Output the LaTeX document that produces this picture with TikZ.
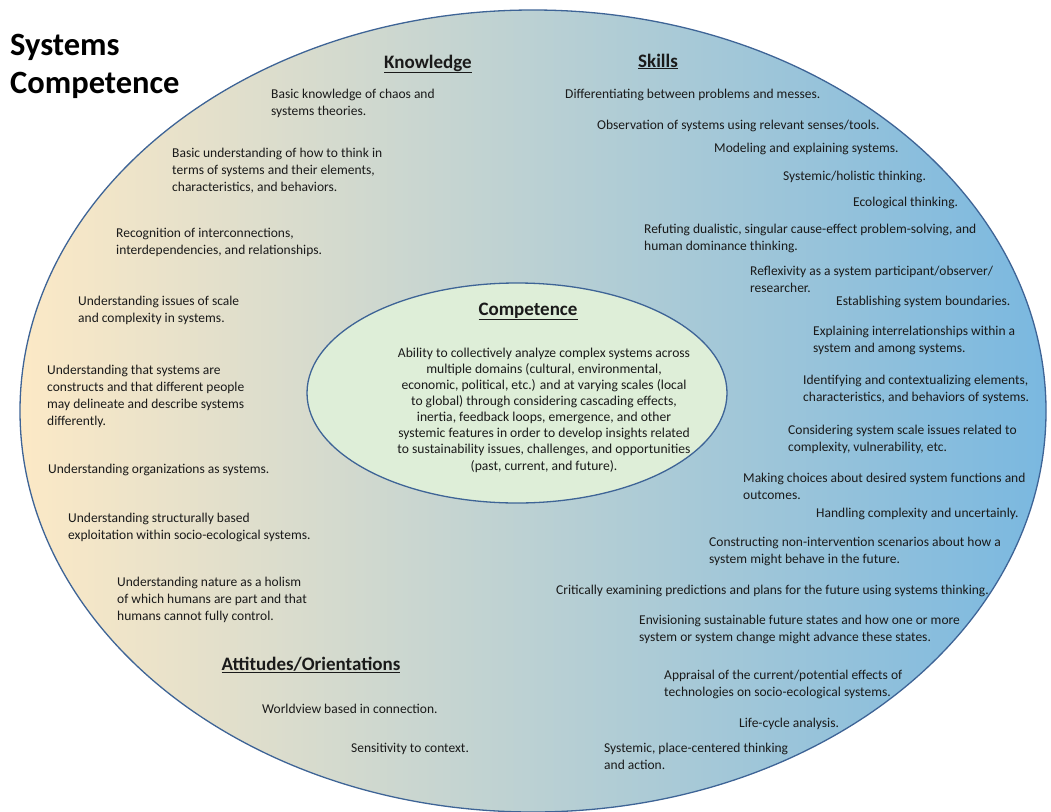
\documentclass[tikz,border=0pt]{standalone}
\usepackage{fontspec}
\setmainfont{Carlito}
\definecolor{txt}{RGB}{26,26,26}
\definecolor{rim}{RGB}{62,100,150}
\definecolor{cream}{RGB}{252,233,198}
\definecolor{mist}{RGB}{212,224,216}
\definecolor{sky}{RGB}{122,184,224}
\definecolor{mint}{RGB}{222,238,216}
\tikzset{
  item/.style={font=\fontsize{13.5}{16.7}\selectfont, text=txt, align=left, anchor=base west, inner sep=0pt},
  head/.style={font=\fontsize{19}{22}\selectfont\bfseries, text=txt, anchor=base, inner sep=0pt},
}
\begin{document}
\begin{tikzpicture}[x=1pt, y=-1pt]
\useasboundingbox (0,0) rectangle (1051,811);
\shade[left color=cream, middle color=mist, right color=sky] (533,411) ellipse [x radius=513pt, y radius=401pt];
\draw[rim, line width=1.3pt] (533,411) ellipse [x radius=513pt, y radius=401pt];
\draw[rim, line width=1.3pt, fill=mint] (517,393) ellipse [x radius=210pt, y radius=110pt];
\node[anchor=base west, inner sep=0pt, text=black, align=left, font=\fontsize{32.5}{38}\selectfont\bfseries] (title) at (10,93) {Systems\\Competence};
\node[head] (knowhead) at (428,68) {\underline{Knowledge}};
\node[head] (skillhead) at (658,67) {\underline{Skills}};
\node[head] (attihead) at (311,670) {\underline{Attitudes/Orientations}};
\node[head] (comphead) at (528,315) {\underline{Competence}};
\node[item, align=center, anchor=base, font=\fontsize{13.6}{16.1}\selectfont] (comptext) at (544,470) {Ability to collectively analyze complex systems across\\multiple domains (cultural, environmental,\\economic, political, etc.) and at varying scales (local\\to global) through considering cascading effects,\\inertia, feedback loops, emergence, and other\\systemic features in order to develop insights related\\to sustainability issues, challenges, and opportunities\\(past, current, and future).};
\node[item] (k1) at (271,115) {Basic knowledge of chaos and\\systems theories.};
\node[item] (k2) at (172,191) {Basic understanding of how to think in\\terms of systems and their elements,\\characteristics, and behaviors.};
\node[item] (k3) at (116,254) {Recognition of interconnections,\\interdependencies, and relationships.};
\node[item] (k4) at (78,322) {Understanding issues of scale\\and complexity in systems.};
\node[item] (k5) at (47,425) {Understanding that systems are\\constructs and that different people\\may delineate and describe systems\\differently.};
\node[item] (k6) at (48,473) {Understanding organizations as systems.};
\node[item] (k7) at (68,539) {Understanding structurally based\\exploitation within socio-ecological systems.};
\node[item] (k8) at (117,620) {Understanding nature as a holism\\of which humans are part and that\\humans cannot fully control.};
\node[item] (a1) at (262,713) {Worldview based in connection.};
\node[item] (a2) at (351,752) {Sensitivity to context.};
\node[item] (s1) at (565,98) {Differentiating between problems and messes.};
\node[item] (s2) at (597,129) {Observation of systems using relevant senses/tools.};
\node[item] (s3) at (714,152) {Modeling and explaining systems.};
\node[item] (s4) at (783,180) {Systemic/holistic thinking.};
\node[item] (s5) at (853,206) {Ecological thinking.};
\node[item] (s6) at (644,250) {Refuting dualistic, singular cause-effect problem-solving, and\\human dominance thinking.};
\node[item] (s7) at (750,292) {Reflexivity as a system participant/observer/\\researcher.};
\node[item] (s8) at (836,305) {Establishing system boundaries.};
\node[item] (s9) at (813,352) {Explaining interrelationships within a\\system and among systems.};
\node[item] (s10) at (803,401) {Identifying and contextualizing elements,\\characteristics, and behaviors of systems.};
\node[item] (s11) at (788,451) {Considering system scale issues related to\\complexity, vulnerability, etc.};
\node[item] (s12) at (743,499) {Making choices about desired system functions and\\outcomes.};
\node[item] (s13) at (816,517) {Handling complexity and uncertainly.};
\node[item] (s14) at (709,563) {Constructing non-intervention scenarios about how a\\system might behave in the future.};
\node[item] (s15) at (556,594) {Critically examining predictions and plans for the future using systems thinking.};
\node[item] (s16) at (639,641) {Envisioning sustainable future states and how one or more\\system or system change might advance these states.};
\node[item] (s17) at (664,696) {Appraisal of the current/potential effects of\\technologies on socio-ecological systems.};
\node[item] (s18) at (739,727) {Life-cycle analysis.};
\node[item] (s19) at (604,769) {Systemic, place-centered thinking\\and action.};
\end{tikzpicture}
\end{document}
